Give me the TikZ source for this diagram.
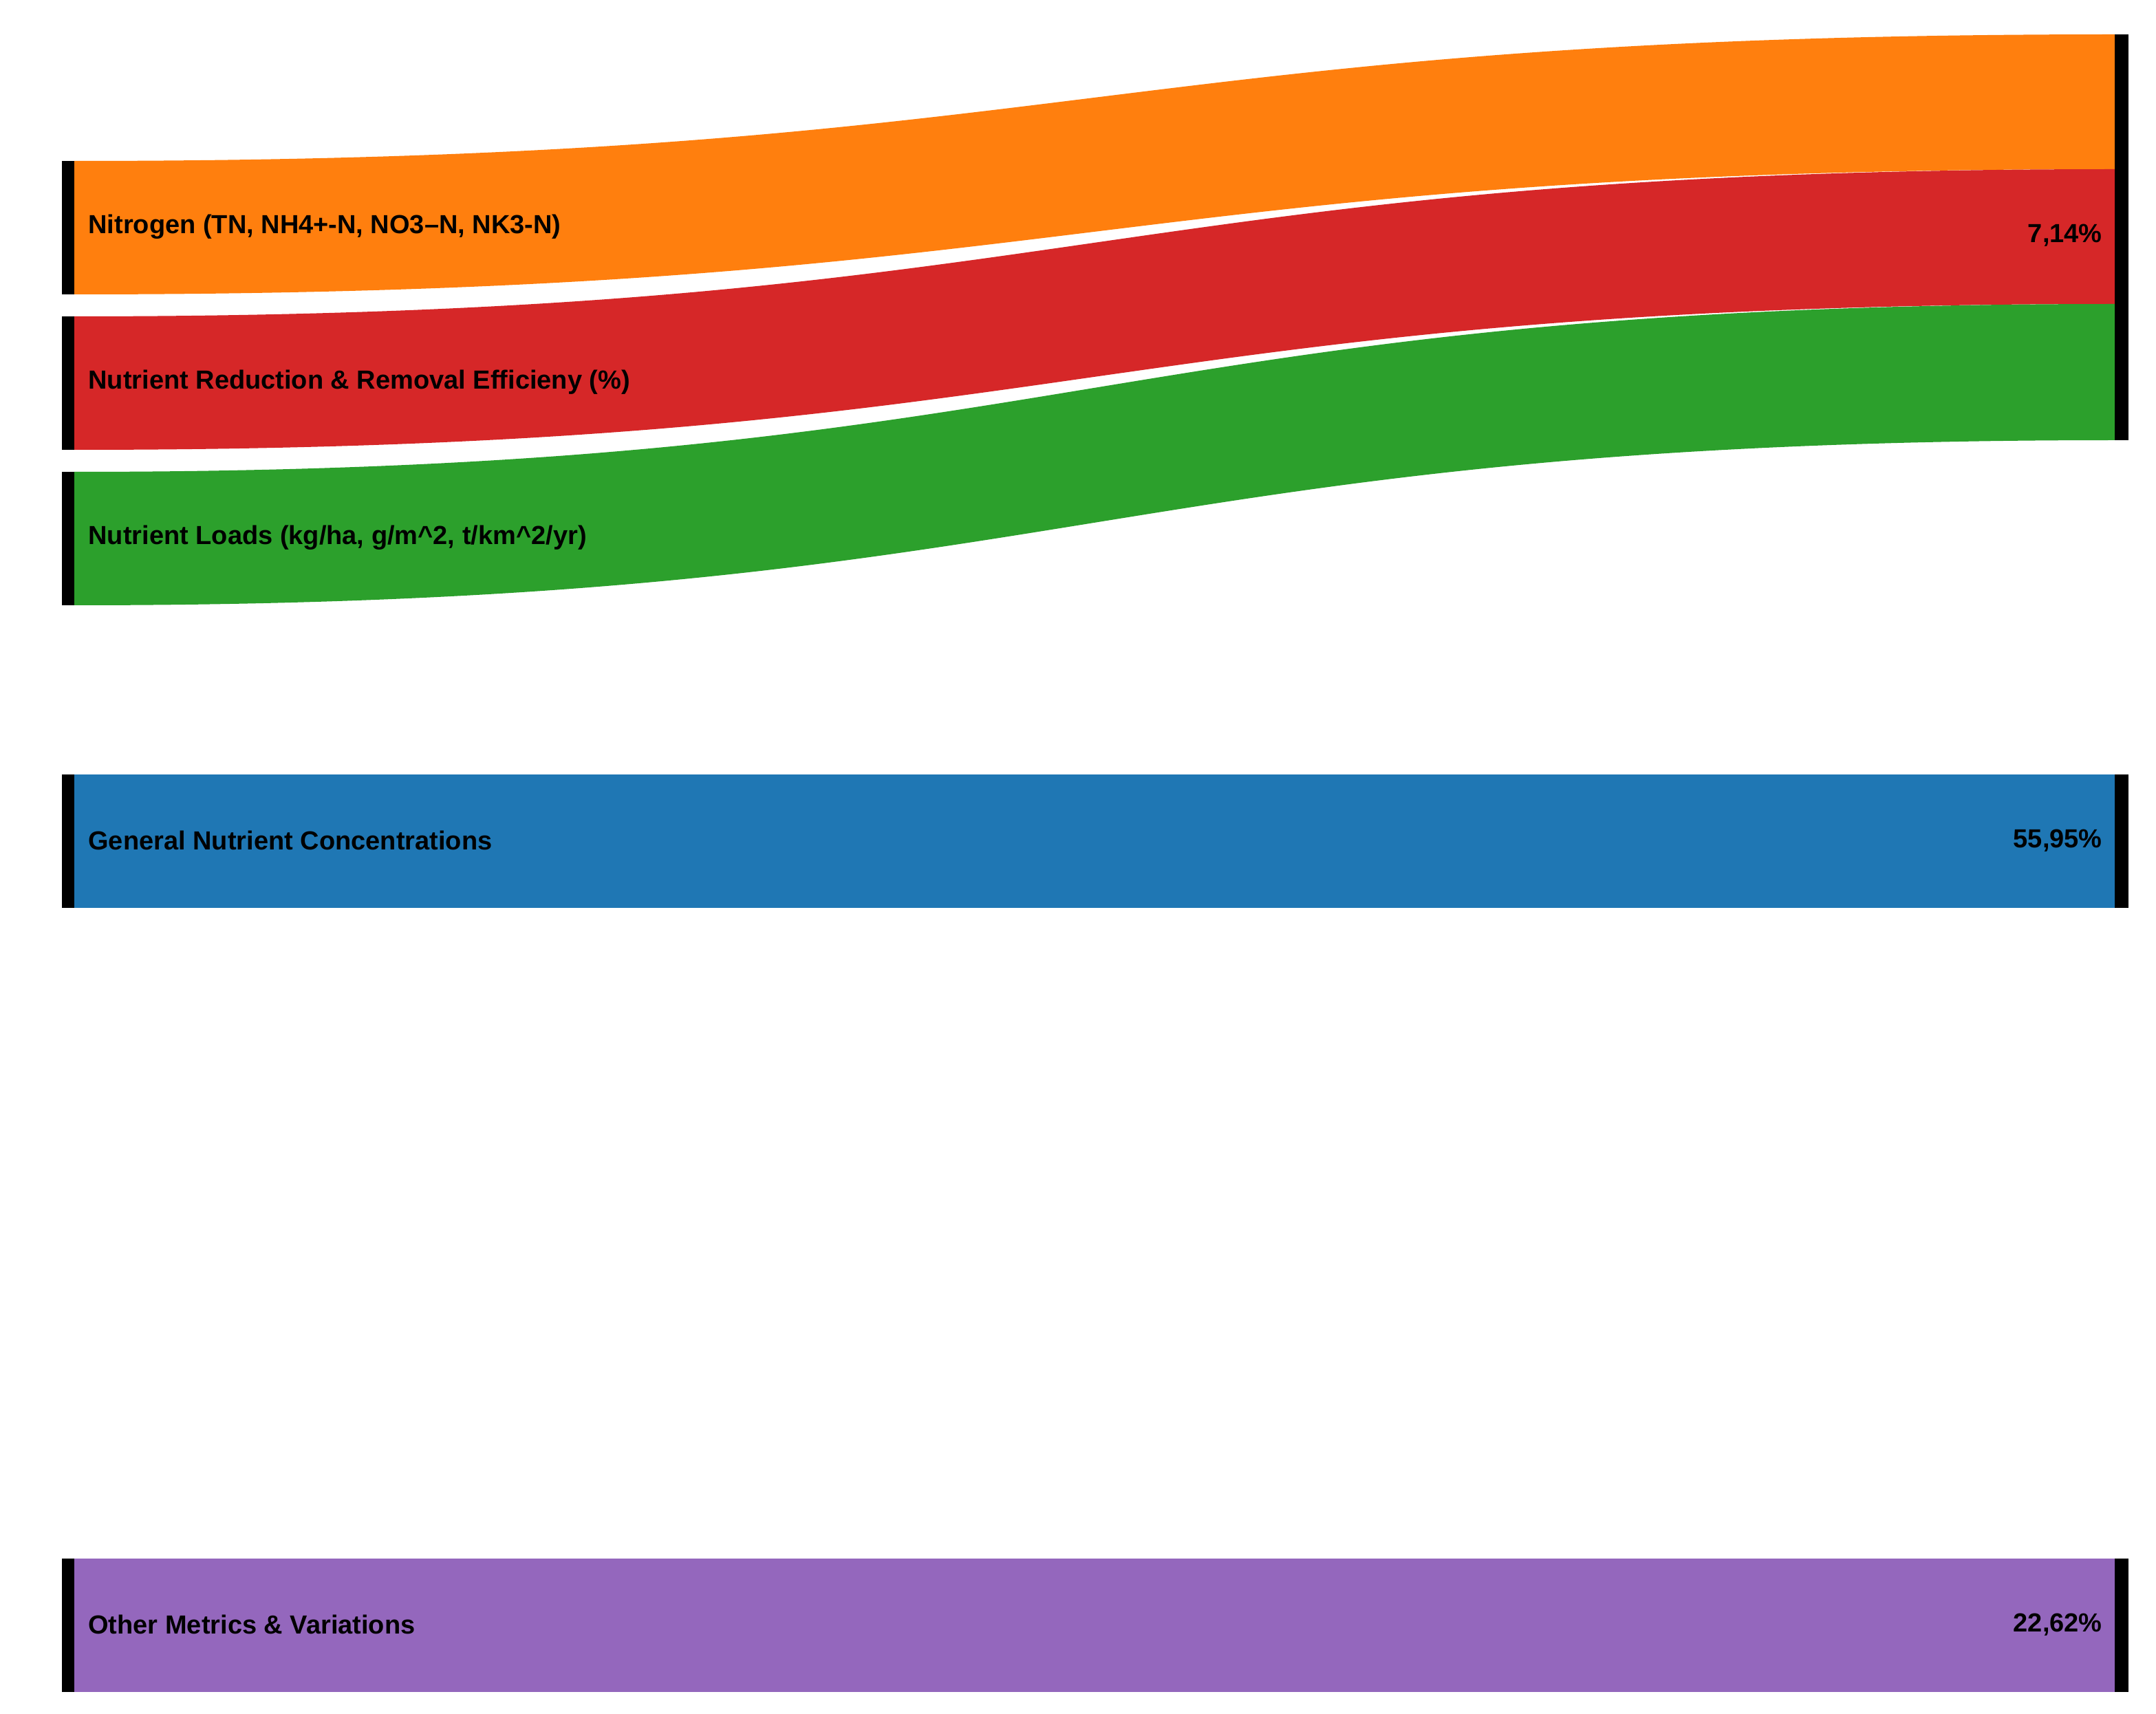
\documentclass[tikz,border=0pt]{standalone}
\usepackage{fontspec}
\setmainfont{Liberation Sans}
\definecolor{cO}{HTML}{FF7F0E}
\definecolor{cR}{HTML}{D62728}
\definecolor{cG}{HTML}{2CA02C}
\definecolor{cB}{HTML}{1F77B4}
\definecolor{cP}{HTML}{9467BD}
\begin{document}
\begin{tikzpicture}[x=1pt,y=-1pt,
  bar/.style={fill=black,draw=none},
  lab/.style={anchor=west,font=\bfseries\fontsize{19}{22}\selectfont,inner sep=0pt},
  rlab/.style={anchor=east,font=\bfseries\fontsize{19}{22}\selectfont,inner sep=0pt}]
\useasboundingbox (0,0) rectangle (1567,1246);
% flows
\newcommand{\flow}[5]{\fill[#1] (54,#2) .. controls (795,#2) and (795,#4) .. (1537,#4) -- (1537,#5) .. controls (795,#5) and (795,#3) .. (54,#3) -- cycle;}
\flow{cO}{117}{214}{25}{123}
\flow{cR}{230}{327}{123}{221}
\flow{cG}{343}{440}{221}{320}
\fill[cB] (54,563) rectangle (1537,660);
\fill[cP] (54,1133) rectangle (1537,1230);
% bars
\fill[bar] (45,117) rectangle (54,214);
\fill[bar] (45,230) rectangle (54,327);
\fill[bar] (45,343) rectangle (54,440);
\fill[bar] (45,563) rectangle (54,660);
\fill[bar] (45,1133) rectangle (54,1230);
\fill[bar] (1537,25) rectangle (1547,320);
\fill[bar] (1537,563) rectangle (1547,660);
\fill[bar] (1537,1133) rectangle (1547,1230);
% labels
\node[lab] (n1) at (64,165) {Nitrogen (TN, NH4+-N, NO3--N, NK3-N)};
\node[lab] (n2) at (64,278) {Nutrient Reduction \& Removal Efficieny (\%)};
\node[lab] (n3) at (64,391) {Nutrient Loads (kg/ha, g/m\^{}2, t/km\^{}2/yr)};
\node[lab] (n4) at (64,611) {General Nutrient Concentrations};
\node[lab] (n5) at (64,1181) {Other Metrics \& Variations};
\node[rlab] (r1) at (1528,171) {7,14\%};
\node[rlab] (r2) at (1528,611) {55,95\%};
\node[rlab] (r3) at (1528,1181) {22,62\%};
\end{tikzpicture}
\end{document}
